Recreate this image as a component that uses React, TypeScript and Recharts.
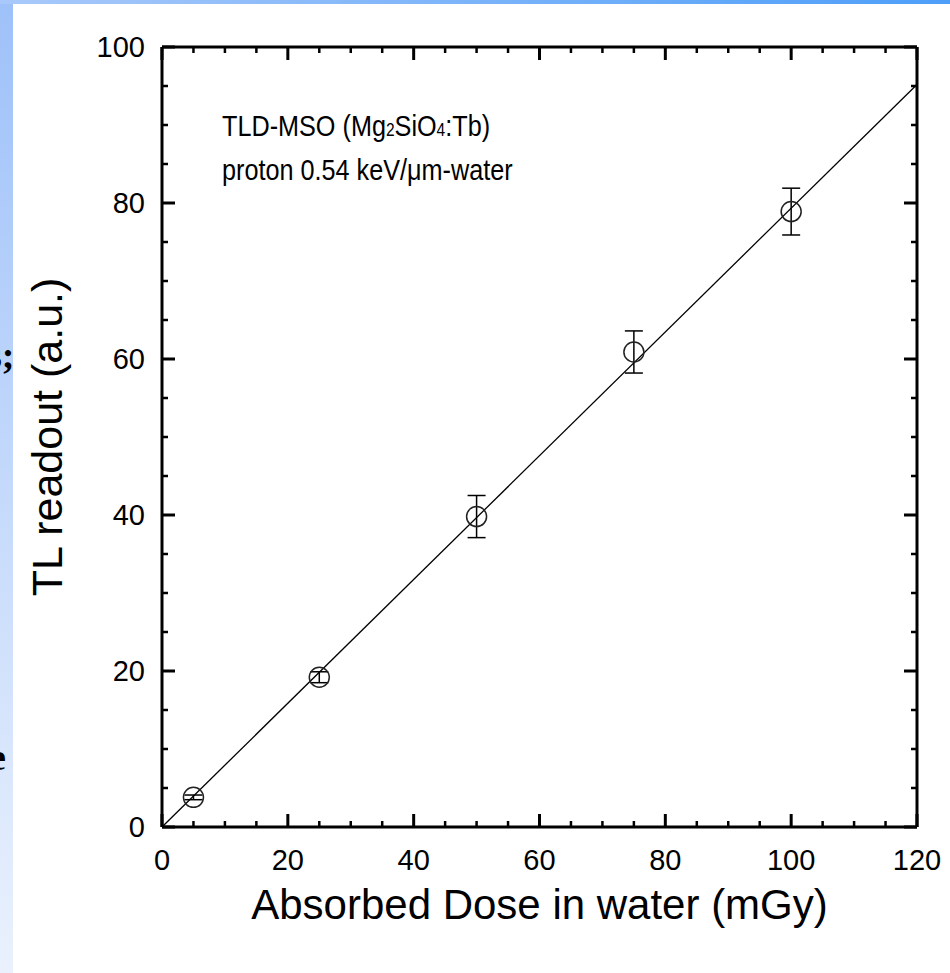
import React from 'react';
import { ScatterChart, Scatter, XAxis, YAxis, ErrorBar } from 'recharts';

// measured points
const doses = [5, 25, 50, 75, 100];
const readouts = [3.8, 19.2, 39.8, 60.9, 78.9];
const errors = [0.3, 0.7, 2.7, 2.7, 3.0];

// linear fit, drawn end to end
const fitX = [0, 120];
const fitY = [0, 95.2];

const xTicks = [0, 5, 10, 15, 20, 25, 30, 35, 40, 45, 50, 55, 60, 65, 70, 75, 80, 85, 90, 95, 100, 105, 110, 115, 120];
const yTicks = [0, 5, 10, 15, 20, 25, 30, 35, 40, 45, 50, 55, 60, 65, 70, 75, 80, 85, 90, 95, 100];
const xLabelled = [0, 20, 40, 60, 80, 100, 120];
const yLabelled = [0, 20, 40, 60, 80, 100];

const points = doses.map((d, i) => ({ x: d, y: readouts[i], err: errors[i] }));
const fitData = fitX.map((x, i) => ({ x, y: fitY[i] }));

const FONT = '"Liberation Sans", Arial, sans-serif';
const MAJOR = 13;
const MINOR = 6;

const BottomTick = (props: any) => {
  const { x, y, payload } = props;
  const big = xLabelled.includes(payload.value);
  return (
    <g>
      <line x1={x} x2={x} y1={y} y2={y - (big ? MAJOR : MINOR)} stroke="#000" strokeWidth={big ? 3 : 2.5} />
      {big && (
        <text x={x} y={y + 43} textAnchor="middle" fontSize={29} fontFamily={FONT} fill="#000">
          {payload.value}
        </text>
      )}
    </g>
  );
};

const TopTick = (props: any) => {
  const { x, y, payload } = props;
  const big = xLabelled.includes(payload.value);
  return <line x1={x} x2={x} y1={y} y2={y + (big ? MAJOR : MINOR)} stroke="#000" strokeWidth={big ? 3 : 2.5} />;
};

const LeftTick = (props: any) => {
  const { x, y, payload } = props;
  const big = yLabelled.includes(payload.value);
  return (
    <g>
      <line x1={x} x2={x + (big ? MAJOR : MINOR)} y1={y} y2={y} stroke="#000" strokeWidth={big ? 3 : 2.5} />
      {big && (
        <text x={x - 17} y={y + 10} textAnchor="end" fontSize={29} fontFamily={FONT} fill="#000">
          {payload.value}
        </text>
      )}
    </g>
  );
};

const RightTick = (props: any) => {
  const { x, y, payload } = props;
  const big = yLabelled.includes(payload.value);
  return <line x1={x} x2={x - (big ? MAJOR : MINOR)} y1={y} y2={y} stroke="#000" strokeWidth={big ? 3 : 2.5} />;
};

const Ring = (props: any) => (
  <circle cx={props.cx} cy={props.cy} r={10} fill="none" stroke="#222" strokeWidth={1.5} />
);

const axisLine = { stroke: '#000', strokeWidth: 3 };

export default function App() {
  return (
    <div style={{ position: 'absolute', left: 0, top: 0, width: 950, height: 973, background: '#fff', overflow: 'hidden' }}>
      <div style={{ position: 'absolute', left: 0, top: 0, width: 13, height: 973, background: 'linear-gradient(to bottom, #9ec1f9, #eaf1fd)' }} />
      <div style={{ position: 'absolute', left: 0, top: 0, width: 950, height: 4, background: 'linear-gradient(to right, #a9c9fa, #4d9ef9)' }} />
      <div style={{ position: 'absolute', left: -13, top: 333, fontFamily: '"Liberation Serif", serif', fontWeight: 'bold', fontSize: 38 }}>s;</div>
      <div style={{ position: 'absolute', left: -11, top: 735, fontFamily: '"Liberation Serif", serif', fontWeight: 'bold', fontSize: 38 }}>e</div>

      <ScatterChart width={950} height={973} margin={{ top: 0, right: 0, bottom: 0, left: 0 }} style={{ position: 'absolute', left: 0, top: 0 }}>
        <XAxis
          xAxisId="main"
          dataKey="x"
          type="number"
          domain={[0, 120]}
          ticks={xTicks}
          interval={0}
          height={146}
          tickSize={0}
          tickMargin={0}
          axisLine={axisLine}
          tickLine={false}
          tick={<BottomTick />}
          label={{
            content: (p: any) => (
              <text x={p.viewBox.x + p.viewBox.width / 2} y={p.viewBox.y + 92} textAnchor="middle" fontSize={42} fontFamily={FONT} fill="#000">
                Absorbed Dose in water (mGy)
              </text>
            ),
          }}
        />
        <XAxis
          xAxisId="top"
          orientation="top"
          dataKey="x"
          type="number"
          domain={[0, 120]}
          ticks={xTicks}
          interval={0}
          height={47}
          tickSize={0}
          tickMargin={0}
          axisLine={axisLine}
          tickLine={false}
          tick={<TopTick />}
        />
        <YAxis
          yAxisId="main"
          dataKey="y"
          type="number"
          domain={[0, 100]}
          ticks={yTicks}
          interval={0}
          width={162}
          tickSize={0}
          tickMargin={0}
          axisLine={axisLine}
          tickLine={false}
          tick={<LeftTick />}
          label={{
            content: (p: any) => {
              const cx = p.viewBox.x + 62;
              const cy = p.viewBox.y + p.viewBox.height / 2;
              return (
                <text x={cx} y={cy} transform={`rotate(-90 ${cx} ${cy})`} textAnchor="middle" fontSize={43} fontFamily={FONT} fill="#000">
                  TL readout (a.u.)
                </text>
              );
            },
          }}
        />
        <YAxis
          yAxisId="right"
          orientation="right"
          dataKey="y"
          type="number"
          domain={[0, 100]}
          ticks={yTicks}
          interval={0}
          width={33}
          tickSize={0}
          tickMargin={0}
          axisLine={axisLine}
          tickLine={false}
          tick={<RightTick />}
        />
        <Scatter
          xAxisId="top"
          yAxisId="right"
          data={fitData}
          line={{ stroke: '#000', strokeWidth: 1.3 }}
          lineType="joint"
          shape={() => <g />}
          isAnimationActive={false}
        />
        <Scatter xAxisId="main" yAxisId="main" data={points} shape={<Ring />} isAnimationActive={false}>
          <ErrorBar dataKey="err" direction="y" width={9} stroke="#000" strokeWidth={1.5} />
        </Scatter>
      </ScatterChart>

      <div
        style={{
          position: 'absolute',
          left: 222,
          top: 106,
          fontFamily: FONT,
          fontSize: 26,
          lineHeight: '35px',
          color: '#000',
          whiteSpace: 'nowrap',
          transform: 'scale(0.97, 1.15)',
          transformOrigin: '0 0',
        }}
      >
        <div>
          TLD-MSO (Mg<span style={{ fontSize: 16 }}>2</span>SiO<span style={{ fontSize: 16 }}>4</span>:Tb)
        </div>
        <div>proton 0.54 keV/μm-water</div>
      </div>
    </div>
  );
}
